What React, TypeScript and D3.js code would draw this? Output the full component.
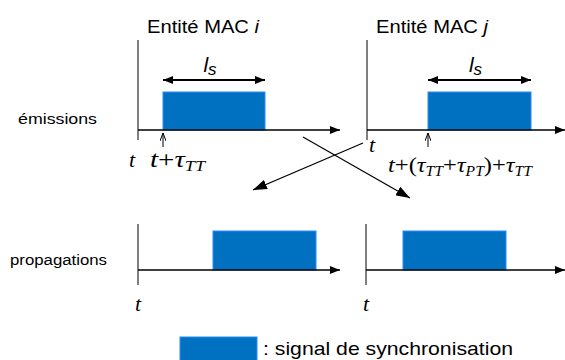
import React from "react";
import * as d3 from "d3";

// time domain for every panel (arbitrary units)
const timeDomain = [0, 10];
const panels = ["i", "j"];
const rows = ["émissions", "propagations"];
// signal [start, end] per row per entity
const emissionSignals = [
  [1.25, 6.35],
  [3.05, 8.2],
];
const propagationSignals = [
  [3.75, 8.9],
  [1.85, 7.0],
];
const legendLabel = ": signal de synchronisation";

const BLUE = "#0070C0";
const EDGE = "#2a8cff";

export default function App() {
  const W = 565, H = 360;
  const origins = [138, 367];
  const origProp = [138, 366];
  const scales = origins.map((o) => d3.scaleLinear().domain(timeDomain).range([o, o + 200]));
  const scalesP = origProp.map((o) => d3.scaleLinear().domain(timeDomain).range([o, o + 200]));
  const axisEnd = [340, 565];

  const eY = 130, eTop = 40, eBot = 140, barTopE = 92;
  const pY = 270, pTop = 224, pBot = 285, barTopP = 231;

  const sans = "'Liberation Sans', Arial, sans-serif";
  const serif = "'Liberation Serif', 'Times New Roman', serif";

  return (
    <svg width={W} height={H} style={{ position: "absolute", left: 0, top: 0, background: "#fff" }}>
      <defs>
        <marker id="ah" viewBox="0 0 10 8" refX="10" refY="4" markerWidth="10" markerHeight="8" markerUnits="userSpaceOnUse" orient="auto-start-reverse">
          <path d="M0,0 L10,4 L0,8 z" fill="#000" />
        </marker>
        <marker id="ahBig" viewBox="0 0 14 10" refX="14" refY="5" markerWidth="14" markerHeight="10" markerUnits="userSpaceOnUse" orient="auto">
          <path d="M0,0 L14,5 L0,10 z" fill="#000" />
        </marker>
        <marker id="ahOpen" viewBox="0 0 8 6" refX="8" refY="3" markerWidth="8" markerHeight="6" markerUnits="userSpaceOnUse" orient="auto">
          <path d="M0,0 L8,3 L0,6" fill="none" stroke="#000" strokeWidth="1" />
        </marker>
      </defs>

      {/* row labels */}
      <text x={18} y={124} fontFamily={sans} fontSize={14} textLength={79} lengthAdjust="spacingAndGlyphs">{rows[0]}</text>
      <text x={10} y={265} fontFamily={sans} fontSize={14} textLength={97} lengthAdjust="spacingAndGlyphs">{rows[1]}</text>

      {panels.map((p, k) => {
        const x = scales[k];
        const xp = scalesP[k];
        const [s, e] = emissionSignals[k];
        const [ps, pe] = propagationSignals[k];
        return (
          <g key={p}>
            <text x={origins[k] + 9} y={33} fontFamily={sans} fontSize={18} textLength={112} lengthAdjust="spacingAndGlyphs">
              Entité MAC <tspan fontStyle="italic">{p}</tspan>
            </text>
            {/* emission axes */}
            <line x1={origins[k]} x2={origins[k]} y1={eTop} y2={eBot} stroke="#000" strokeWidth={1} />
            <rect x={x(s)} y={barTopE} width={x(e) - x(s)} height={eY - barTopE} fill={BLUE} stroke={EDGE} strokeWidth={1} />
            <line x1={origins[k]} x2={axisEnd[k]} y1={eY} y2={eY} stroke="#000" strokeWidth={1.3} markerEnd="url(#ah)" />
            {/* duration arrow */}
            <line x1={x(s)} x2={x(e)} y1={80} y2={80} stroke="#000" strokeWidth={2} markerStart="url(#ah)" markerEnd="url(#ah)" />
            <text x={(x(s) + x(e)) / 2 - 4} y={72} fontFamily={sans} fontSize={21} fontStyle="italic" textAnchor="middle">
              l<tspan fontSize={17} dy={3}>s</tspan>
            </text>
            {/* small up arrow */}
            <line x1={x(s)} x2={x(s)} y1={147} y2={133} stroke="#000" strokeWidth={1} markerEnd="url(#ahOpen)" />
            {/* propagation axes */}
            <line x1={origProp[k]} x2={origProp[k]} y1={pTop} y2={pBot} stroke="#000" strokeWidth={1} />
            <rect x={xp(ps)} y={barTopP} width={xp(pe) - xp(ps)} height={pY - barTopP} fill={BLUE} stroke={EDGE} strokeWidth={1} />
            <line x1={origProp[k]} x2={axisEnd[k]} y1={pY} y2={pY} stroke="#000" strokeWidth={1.3} markerEnd="url(#ah)" />
            <text x={origProp[k]} y={311} fontFamily={serif} fontSize={22} fontStyle="italic" textAnchor="middle">t</text>
          </g>
        );
      })}

      {/* t labels under emission */}
      <text x={132} y={167} fontFamily={serif} fontSize={22} fontStyle="italic" textAnchor="middle">t</text>
      <text x={372} y={152} fontFamily={serif} fontSize={22} fontStyle="italic" textAnchor="middle">t</text>

      {/* formulas */}
      <text x={150} y={167} fontFamily={serif} fontSize={24} textLength={55} lengthAdjust="spacingAndGlyphs">
        <tspan fontStyle="italic">t</tspan>+<tspan fontStyle="italic">τ</tspan>
        <tspan fontStyle="italic" fontSize={15} dy={4}>TT</tspan>
      </text>
      <text x={388} y={172} fontFamily={serif} fontSize={22} textLength={144} lengthAdjust="spacingAndGlyphs">
        <tspan fontStyle="italic">t</tspan>+(<tspan fontStyle="italic">τ</tspan>
        <tspan fontStyle="italic" fontSize={14} dy={4}>TT</tspan>
        <tspan dy={-4}>+</tspan><tspan fontStyle="italic">τ</tspan>
        <tspan fontStyle="italic" fontSize={14} dy={4}>PT</tspan>
        <tspan dy={-4}>)+</tspan><tspan fontStyle="italic">τ</tspan>
        <tspan fontStyle="italic" fontSize={14} dy={4}>TT</tspan>
      </text>

      {/* crossing arrows */}
      <line x1={303} y1={137} x2={410} y2={198} stroke="#000" strokeWidth={1.2} markerEnd="url(#ahBig)" />
      <line x1={363} y1={143} x2={253} y2={190} stroke="#000" strokeWidth={1.2} markerEnd="url(#ahBig)" />

      {/* legend */}
      <rect x={180} y={337} width={77} height={25} fill={BLUE} stroke={EDGE} strokeWidth={1} />
      <text x={263} y={355} fontFamily={sans} fontSize={19} textLength={250} lengthAdjust="spacingAndGlyphs">{legendLabel}</text>
    </svg>
  );
}
